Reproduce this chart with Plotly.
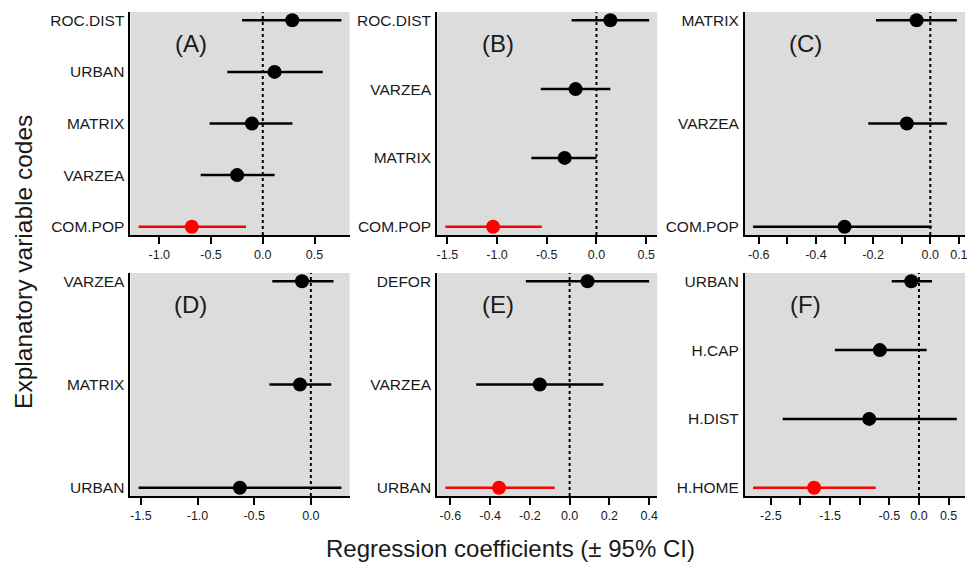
import plotly.graph_objects as go

# ---------------- data (top-to-bottom order within each panel) ----------------
panel_tags = ["(A)", "(B)", "(C)", "(D)", "(E)", "(F)"]

a_vars = ["ROC.DIST", "URBAN", "MATRIX", "VARZEA", "COM.POP"]
a_est = [0.285, 0.114, -0.105, -0.248, -0.686]
a_low = [-0.20, -0.343, -0.514, -0.60, -1.20]
a_upp = [0.76, 0.58, 0.286, 0.114, -0.162]
a_sig = ["COM.POP"]
a_ticks = [-1.0, -0.5, 0.0, 0.5]
a_ticktext = ["-1.0", "-0.5", "0.0", "0.5"]

b_vars = ["ROC.DIST", "VARZEA", "MATRIX", "COM.POP"]
b_est = [0.14, -0.21, -0.32, -1.04]
b_low = [-0.25, -0.56, -0.655, -1.52]
b_upp = [0.53, 0.14, 0.0, -0.55]
b_sig = ["COM.POP"]
b_ticks = [-1.5, -1.0, -0.5, 0.0, 0.5]
b_ticktext = ["-1.5", "-1.0", "-0.5", "0.0", "0.5"]

c_vars = ["MATRIX", "VARZEA", "COM.POP"]
c_est = [-0.048, -0.082, -0.30]
c_low = [-0.19, -0.217, -0.62]
c_upp = [0.093, 0.058, 0.005]
c_sig = []
c_ticks = [-0.6, -0.5, -0.4, -0.3, -0.2, -0.1, 0.0, 0.1]
c_ticktext = ["-0.6", "", "-0.4", "", "-0.2", "", "0.0", "0.1"]

d_vars = ["VARZEA", "MATRIX", "URBAN"]
d_est = [-0.078, -0.096, -0.626]
d_low = [-0.34, -0.365, -1.52]
d_upp = [0.20, 0.18, 0.27]
d_sig = []
d_ticks = [-1.5, -1.0, -0.5, 0.0]
d_ticktext = ["-1.5", "-1.0", "-0.5", "0.0"]

e_vars = ["DEFOR", "VARZEA", "URBAN"]
e_est = [0.09, -0.15, -0.355]
e_low = [-0.22, -0.47, -0.625]
e_upp = [0.40, 0.17, -0.075]
e_sig = ["URBAN"]
e_ticks = [-0.6, -0.4, -0.2, 0.0, 0.2, 0.4]
e_ticktext = ["-0.6", "-0.4", "-0.2", "0.0", "0.2", "0.4"]

f_vars = ["URBAN", "H.CAP", "H.DIST", "H.HOME"]
f_est = [-0.13, -0.66, -0.84, -1.77]
f_low = [-0.46, -1.42, -2.30, -2.80]
f_upp = [0.22, 0.13, 0.64, -0.73]
f_sig = ["H.HOME"]
f_ticks = [-2.5, -2.0, -1.5, -1.0, -0.5, 0.0, 0.5]
f_ticktext = ["-2.5", "", "-1.5", "", "-0.5", "0.0", "0.5"]

x_title = "Regression coefficients (± 95% CI)"
y_title = "Explanatory variable codes"

panels = [
    (a_vars, a_est, a_low, a_upp, a_sig, a_ticks, a_ticktext),
    (b_vars, b_est, b_low, b_upp, b_sig, b_ticks, b_ticktext),
    (c_vars, c_est, c_low, c_upp, c_sig, c_ticks, c_ticktext),
    (d_vars, d_est, d_low, d_upp, d_sig, d_ticks, d_ticktext),
    (e_vars, e_est, e_low, e_upp, e_sig, e_ticks, e_ticktext),
    (f_vars, f_est, f_low, f_upp, f_sig, f_ticks, f_ticktext),
]

# ---------------- layout geometry ----------------
W, H = 973, 565
col_px = [(130, 350), (438, 659), (747, 968)]
row_px = [(12, 235), (273, 496)]
FONT = "Arial, 'Liberation Sans', sans-serif"
BG = "#dcdcdc"
TXT = "#1a1a1a"

fig = go.Figure()
layout = dict(
    width=W, height=H, margin=dict(l=0, r=0, t=0, b=0),
    paper_bgcolor="white", plot_bgcolor=BG, showlegend=False,
    font=dict(family=FONT, color="black"),
)
shapes, annotations = [], []

for i, (vars_, est, low, upp, sig, ticks, ticktext) in enumerate(panels):
    r, c = divmod(i, 3)
    n = len(vars_)
    ypos = list(range(n, 0, -1))
    xa = "x" if i == 0 else f"x{i+1}"
    ya = "y" if i == 0 else f"y{i+1}"
    xkey = "xaxis" if i == 0 else f"xaxis{i+1}"
    ykey = "yaxis" if i == 0 else f"yaxis{i+1}"

    lo_all, hi_all = min(low), max(upp)
    pad = 0.04 * (hi_all - lo_all)
    ypad = 0.04 * (n - 1)

    x0, x1 = col_px[c]
    yt, yb = row_px[r]
    layout[xkey] = dict(
        domain=[x0 / W, x1 / W], anchor=ya,
        range=[lo_all - pad, hi_all + pad],
        tickvals=ticks, ticktext=ticktext, ticks="outside", ticklen=7,
        tickwidth=2, tickcolor="black", showline=True, linecolor="black",
        linewidth=2, showgrid=False, zeroline=False,
        tickfont=dict(size=12.5, family=FONT, color=TXT),
    )
    layout[ykey] = dict(
        domain=[1 - yb / H, 1 - yt / H], anchor=xa,
        range=[1 - ypad, n + ypad],
        tickvals=ypos, ticktext=vars_, ticks="", showline=True,
        linecolor="black", linewidth=2, showgrid=False, zeroline=False,
        ticklabelstandoff=1,
        tickfont=dict(size=15.5, family=FONT, color=TXT),
    )

    # zero reference line
    shapes.append(dict(type="line", xref=xa, yref=f"{ya} domain", x0=0, x1=0,
                       y0=0, y1=1, line=dict(color="black", width=2, dash="dot"),
                       layer="above"))

    for v, e, lo, hi, yp in zip(vars_, est, low, upp, ypos):
        col = "#ff0000" if v in sig else "black"
        fig.add_trace(go.Scatter(x=[lo, hi], y=[yp, yp], mode="lines",
                                 line=dict(color=col, width=2.5),
                                 xaxis=xa, yaxis=ya, hoverinfo="skip"))
        fig.add_trace(go.Scatter(x=[e], y=[yp], mode="markers",
                                 marker=dict(color=col, size=14),
                                 xaxis=xa, yaxis=ya, name=v))

    annotations.append(dict(text=panel_tags[i], xref=f"{xa} domain",
                            yref=f"{ya} domain", x=0.275, y=0.86,
                            showarrow=False, xanchor="center", yanchor="middle",
                            font=dict(size=24, family=FONT, color=TXT)))

annotations.append(dict(text=x_title, xref="paper", yref="paper",
                        x=512 / W, y=1 - 548 / H, showarrow=False,
                        xanchor="center", yanchor="middle",
                        font=dict(size=24, family=FONT, color=TXT)))
annotations.append(dict(text=y_title, xref="paper", yref="paper",
                        x=22 / W, y=1 - 262 / H, showarrow=False, textangle=-90,
                        xanchor="center", yanchor="middle",
                        font=dict(size=24.5, family=FONT, color=TXT)))

layout["shapes"] = shapes
layout["annotations"] = annotations
fig.update_layout(**layout)
fig.write_html(
    "out.html",
    config={"displayModeBar": False},
    post_script="document.body.style.margin='0';document.body.style.overflow='hidden';",
)
